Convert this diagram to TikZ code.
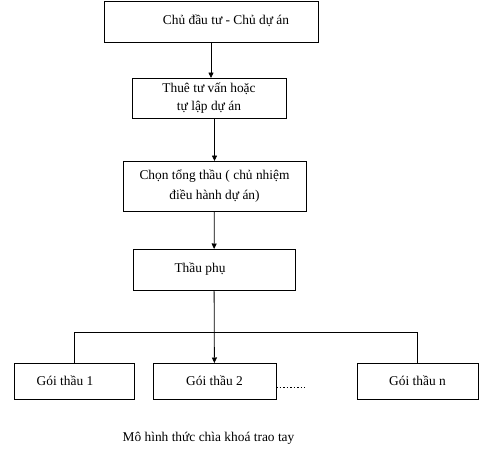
\documentclass[tikz,border=0pt]{standalone}
\usepackage{fontspec}
\setmainfont{Liberation Serif}
\usepackage{tikz}
\usetikzlibrary{arrows.meta,positioning}
\tikzset{
  stagebox/.style={draw=black, line width=0.9pt, fill=white, outer sep=0pt, inner sep=2pt, align=center, font=\fontsize{13.4}{18}\selectfont},
  pkgbox/.style={stagebox, minimum width=121pt, minimum height=36pt},
  flowarrow/.style={-{Triangle[length=5.5pt,width=5pt]}, line width=0.8pt, draw=black},
  busline/.style={line width=0.8pt, draw=black}
}
\begin{document}
\begin{tikzpicture}[x=1pt, y=1pt]
    \useasboundingbox (0,0) rectangle (480,-448);
    \node[stagebox, minimum width=214pt, minimum height=41pt] (owner) at (211,-21.5) {\raisebox{4pt}{\hspace*{30pt}Chủ đầu tư - Chủ dự án}};
    \node[stagebox, minimum width=154pt, minimum height=40pt, below=36pt of owner, xshift=-2pt] (consult) {Thuê tư vấn hoặc\\tự lập dự án};
    \node[stagebox, minimum width=183pt, minimum height=50pt, below=43pt of consult, xshift=5.5pt, font=\fontsize{13.4}{20}\selectfont] (general) {Chọn tổng thầu ( chủ nhiệm\\điều hành dự án)};
    \node[stagebox, minimum width=162pt, minimum height=41pt, below=38pt of general, xshift=-0.5pt] (subcon) {\raisebox{2pt}{Thầu phụ\hspace*{28pt}}};
    \node[pkgbox, minimum width=123pt, below=73pt of subcon, xshift=0.5pt] (pkgtwo) {Gói thầu 2};
    \node[pkgbox, minimum width=120pt, left=19pt of pkgtwo] (pkgone) {Gói thầu 1\hspace*{18pt}};
    \node[pkgbox, right=81pt of pkgtwo] (pkgn) {Gói thầu n};
    \node[font=\fontsize{13.4}{15}\selectfont, below=30pt of pkgtwo, xshift=-6pt] (caption) {Mô hình thức chìa khoá trao tay};
    \coordinate (bus) at (0,-332);
    \coordinate (dotend) at (305,-387);
    \draw[flowarrow] (owner) -- (owner |- consult.north);
    \draw[flowarrow] (general.north |- consult.south) -- (general.north);
    \draw[flowarrow] (general) -- (subcon);
    \draw[flowarrow] (subcon) -- (pkgtwo);
    \draw[busline] (pkgone.north) -- (pkgone.north |- bus) -- (pkgn.north |- bus) -- (pkgn.north);
    \draw[busline, dash pattern=on 1.5pt off 2pt] (pkgtwo.east |- dotend) -- (dotend);
  \end{tikzpicture}
\end{document}
